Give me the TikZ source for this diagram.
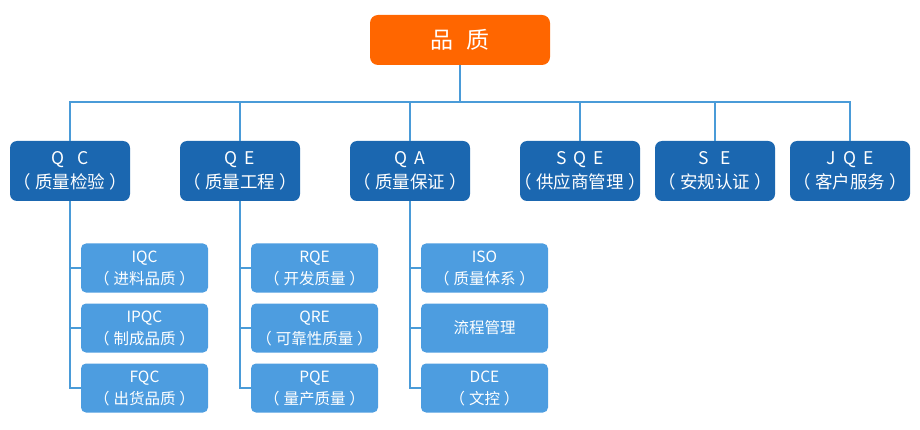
\documentclass[tikz,border=0pt]{standalone}
\usepackage{fontspec}
\setmainfont{Noto Sans CJK SC}
\definecolor{topc}{HTML}{FF6600}
\definecolor{midc}{HTML}{1B67B0}
\definecolor{leafc}{HTML}{4D9DE0}
\definecolor{linec}{HTML}{4A9BD8}
\newcommand{\lgap}{\hspace{0.4em}}
\newcommand{\pa}[1]{\hspace*{-0.4em}（\hspace{0.25em}#1\hspace{0.25em}）\hspace*{-0.4em}}
\tikzset{
	head/.style={fill=topc, text=white, rounded corners=8pt, minimum width=180pt, minimum height=50pt, font=\fontsize{23}{26}\selectfont},
	branch/.style={fill=midc, text=white, rounded corners=7pt, minimum width=120pt, minimum height=60pt, align=center, inner sep=0pt, font=\fontsize{17.5}{23.5}\selectfont},
	leaf/.style={fill=leafc, text=white, rounded corners=5pt, minimum width=127pt, minimum height=49pt, align=center, inner sep=0pt, font=\fontsize{15.5}{22}\selectfont},
	link/.style={draw=linec, line width=2pt}
}
\begin{document}
\begin{tikzpicture}[x=1pt,y=-1pt]
			\useasboundingbox (0,0) rectangle (920,430);
			% top and the bus below it
			\node [head] (pz) at (460,40) {品\hspace{0.6em}质};
			\coordinate (bus) at (460,102);
			\draw [link] (pz.south) -- (bus);
			% second row
			\node [branch] (qc) at (70,171) {Q\hspace{0.75em}C\\\pa{质量检验}};
			\node [branch] (qe) at (240,171) {Q\lgap E\\\pa{质量工程}};
			\node [branch] (qa) at (410,171) {Q\lgap A\\\pa{质量保证}};
			\node [branch] (sqe) at (580,171) {S\lgap Q\lgap E\\\pa{供应商管理}};
			\node [branch] (se) at (715,171) {S\hspace{0.65em}E\\\pa{安规认证}};
			\node [branch] (jqe) at (850,171) {J\lgap Q\lgap E\\\pa{客户服务}};
			\foreach \n in {qc,qe,qa,sqe,se,jqe}
				\draw [link] (\n.north) |- (bus);
			% third row
			\node [leaf] (iqc) at (144.5,268) {IQC\\\pa{进料品质}};
			\node [leaf] (ipqc) at (144.5,328) {IPQC\\\pa{制成品质}};
			\node [leaf] (fqc) at (144.5,388) {FQC\\\pa{出货品质}};
			\node [leaf] (rqe) at (314.5,268) {RQE\\\pa{开发质量}};
			\node [leaf] (qre) at (314.5,328) {QRE\\\pa{可靠性质量}};
			\node [leaf] (pqe) at (314.5,388) {PQE\\\pa{量产质量}};
			\node [leaf] (iso) at (484.5,268) {ISO\\\pa{质量体系}};
			\node [leaf] (lcgl) at (484.5,328) {流程管理};
			\node [leaf] (dce) at (484.5,388) {DCE\\\pa{文控}};
			\foreach \p/\c in {qc/iqc,qc/ipqc,qc/fqc,qe/rqe,qe/qre,qe/pqe,qa/iso,qa/lcgl,qa/dce}
				\draw [link] (\p.south) |- (\c.west);
		\end{tikzpicture}
\end{document}
